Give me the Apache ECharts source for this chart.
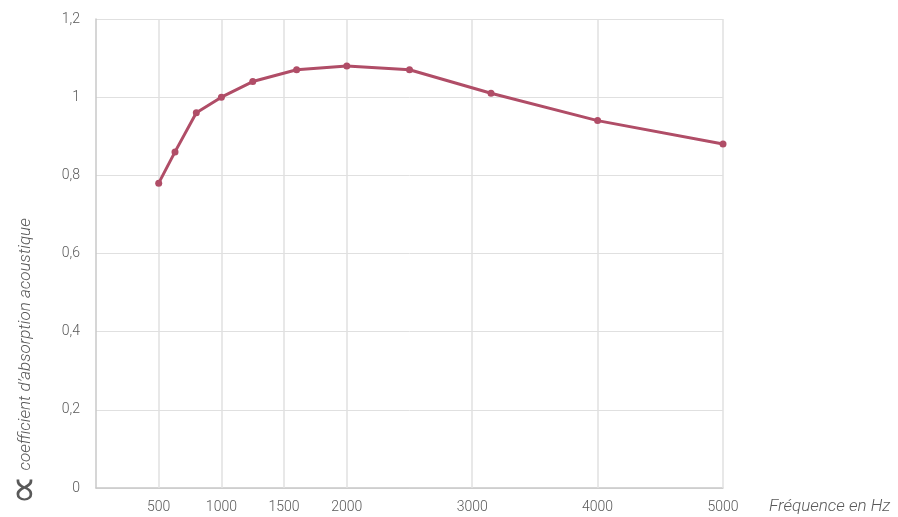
<!DOCTYPE html>
<html>
<head>
<meta charset="utf-8">
<script src="https://cdn.jsdelivr.net/npm/echarts@6/dist/echarts.min.js"></script>
<style>
  html, body { margin: 0; padding: 0; background: #ffffff; }
  #chart { width: 898px; height: 517px; }
</style>
</head>
<body>
<div id="chart"></div>
<script>
// Third-octave band centre frequencies (Hz)
const frequencies = [500, 630, 800, 1000, 1250, 1600, 2000, 2500, 3150, 4000, 5000];
// Sound absorption coefficient per band
const absorption = [0.78, 0.86, 0.96, 1.00, 1.04, 1.07, 1.08, 1.07, 1.01, 0.94, 0.88];
// Frequencies shown on the x axis, with a vertical grid line each
const xTicks = [500, 1000, 1500, 2000, 3000, 4000, 5000];
// y axis range and step
const yMin = 0, yMax = 1.2, yStep = 0.2;

const labelFont = 'Roboto, "Liberation Sans", sans-serif';
const textColor = '#595959';

const chart = echarts.init(document.getElementById('chart'), null, { renderer: 'canvas' });

chart.setOption({
  animation: false,
  backgroundColor: '#ffffff',
  grid: { left: 96, right: 175, top: 19, bottom: 29, containLabel: false, outerBoundsMode: 'none' },
  xAxis: {
    type: 'value',
    min: 0,
    max: 5000,
    name: 'Fréquence en Hz',
    nameLocation: 'end',
    nameGap: 46,
    nameTextStyle: {
      fontFamily: labelFont, fontStyle: 'italic', fontWeight: 300, fontSize: 17,
      color: textColor, align: 'left', verticalAlign: 'top', padding: [10, 0, 0, 0]
    },
    axisLine: { show: true, lineStyle: { color: '#c8c8c8', width: 1.5 } },
    axisTick: { show: false },
    splitLine: { show: false },
    axisLabel: {
      customValues: xTicks,
      margin: 12,
      fontFamily: labelFont, fontWeight: 300, fontSize: 14, color: textColor,
      formatter: v => String(v)
    }
  },
  yAxis: {
    type: 'value',
    min: yMin,
    max: yMax,
    interval: yStep,
    name: '{a|∝}{t| coefficient d\u2019absorption acoustique}',
    nameLocation: 'middle',
    nameGap: 60,
    nameTextStyle: {
      color: textColor,
      padding: [0, 216, 0, 0],
      rich: {
        a: { fontFamily: '"DejaVu Sans", sans-serif', fontSize: 42, fontWeight: 200, color: textColor, lineHeight: 20 },
        t: { fontFamily: labelFont, fontSize: 17, fontStyle: 'italic', fontWeight: 300, color: textColor, lineHeight: 20 }
      }
    },
    axisLine: { show: true, lineStyle: { color: '#c8c8c8', width: 1.5 } },
    axisTick: { show: false },
    splitLine: { show: true, lineStyle: { color: '#e0e0e0', width: 1 } },
    axisLabel: {
      margin: 16,
      fontFamily: labelFont, fontWeight: 300, fontSize: 14, color: textColor,
      formatter: v => {
        const r = Math.round(v * 10) / 10;
        return String(r).replace('.', ',');
      }
    }
  },
  series: [{
    type: 'line',
    data: frequencies.map((f, i) => [f, absorption[i]]),
    symbol: 'circle',
    symbolSize: 7,
    lineStyle: { color: '#b04d67', width: 3 },
    itemStyle: { color: '#b04d67' },
    z: 5,
    markLine: {
      silent: true,
      symbol: 'none',
      label: { show: false },
      lineStyle: { color: '#e0e0e0', width: 1.5, type: 'solid' },
      data: xTicks.map(v => ({ xAxis: v })),
      z: 1
    }
  }]
});
</script>
</body>
</html>
